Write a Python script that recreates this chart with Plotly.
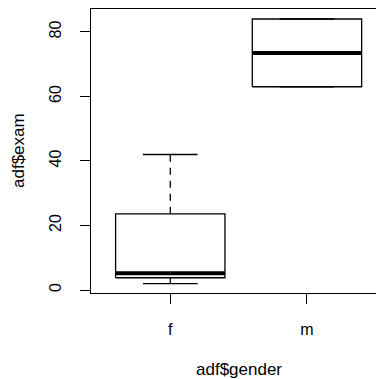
import plotly.graph_objects as go

categories = ["f", "m"]
lower_whisker = [2, 63]
q1 = [3.8, 63]
median = [5.2, 73.5]
q3 = [23.6, 84]
upper_whisker = [42, 84]
y_ticks = [0, 20, 40, 60, 80]

FONT = "Liberation Sans, Arial, sans-serif"
FS = 16
FS_TITLE = 17
BOXW = 0.4
CAPW = 0.2

fig = go.Figure()
for i, cat in enumerate(categories):
    xc = i + 1
    line = dict(color="black", width=1.3)
    # box
    fig.add_trace(go.Scatter(
        x=[xc - BOXW, xc + BOXW, xc + BOXW, xc - BOXW, xc - BOXW],
        y=[q1[i], q1[i], q3[i], q3[i], q1[i]],
        mode="lines", line=line, hoverinfo="skip", showlegend=False))
    # median
    fig.add_trace(go.Scatter(
        x=[xc - BOXW, xc + BOXW], y=[median[i], median[i]],
        mode="lines", line=dict(color="black", width=4), hoverinfo="skip", showlegend=False))
    # whiskers (dashed)
    for a, b in ((q3[i], upper_whisker[i]), (q1[i], lower_whisker[i])):
        if a != b:
            fig.add_trace(go.Scatter(
                x=[xc, xc], y=[a, b], mode="lines",
                line=dict(color="black", width=1.3, dash="7px,6px"),
                hoverinfo="skip", showlegend=False))
    # caps
    for v in (upper_whisker[i], lower_whisker[i]):
        fig.add_trace(go.Scatter(
            x=[xc - CAPW, xc + CAPW], y=[v, v], mode="lines",
            line=line, hoverinfo="skip", showlegend=False))

fig.update_layout(
    width=376, height=379,
    margin=dict(l=91, r=0, t=9, b=86),
    paper_bgcolor="white", plot_bgcolor="white",
    font=dict(family=FONT, size=FS, color="black"),
    xaxis=dict(
        range=[0.42, 2.505], tickmode="array", tickvals=[1, 2], ticktext=categories,
        showline=True, linecolor="black", linewidth=1.3, mirror=True,
        ticks="outside", ticklen=10, tickwidth=1.3, tickcolor="black",
        showgrid=False, zeroline=False, ticklabelstandoff=12,
    ),
    yaxis=dict(
        range=[-0.93, 87.1], tickmode="array", tickvals=y_ticks,
        showline=True, linecolor="black", linewidth=1.3,
        ticks="outside", ticklen=10, tickwidth=1.3, tickcolor="black",
        tickangle=-90, showgrid=False, zeroline=False, ticklabelstandoff=12,
    ),
    annotations=[
        dict(text="adf$gender", x=1.5, xref="x", y=-(369 - 293) / 284, yref="paper",
             showarrow=False, xanchor="center", yanchor="middle",
             font=dict(family=FONT, size=FS_TITLE, color="black")),
        dict(text="adf$exam", x=(18 - 91) / 285, xref="paper", y=0.5, yref="paper",
             showarrow=False, textangle=-90, xanchor="center", yanchor="middle",
             font=dict(family=FONT, size=FS_TITLE, color="black")),
    ],
)

fig.write_html("out.html", config={"displayModeBar": False},
               post_script="document.body.style.margin='0';document.body.style.overflow='hidden';")
